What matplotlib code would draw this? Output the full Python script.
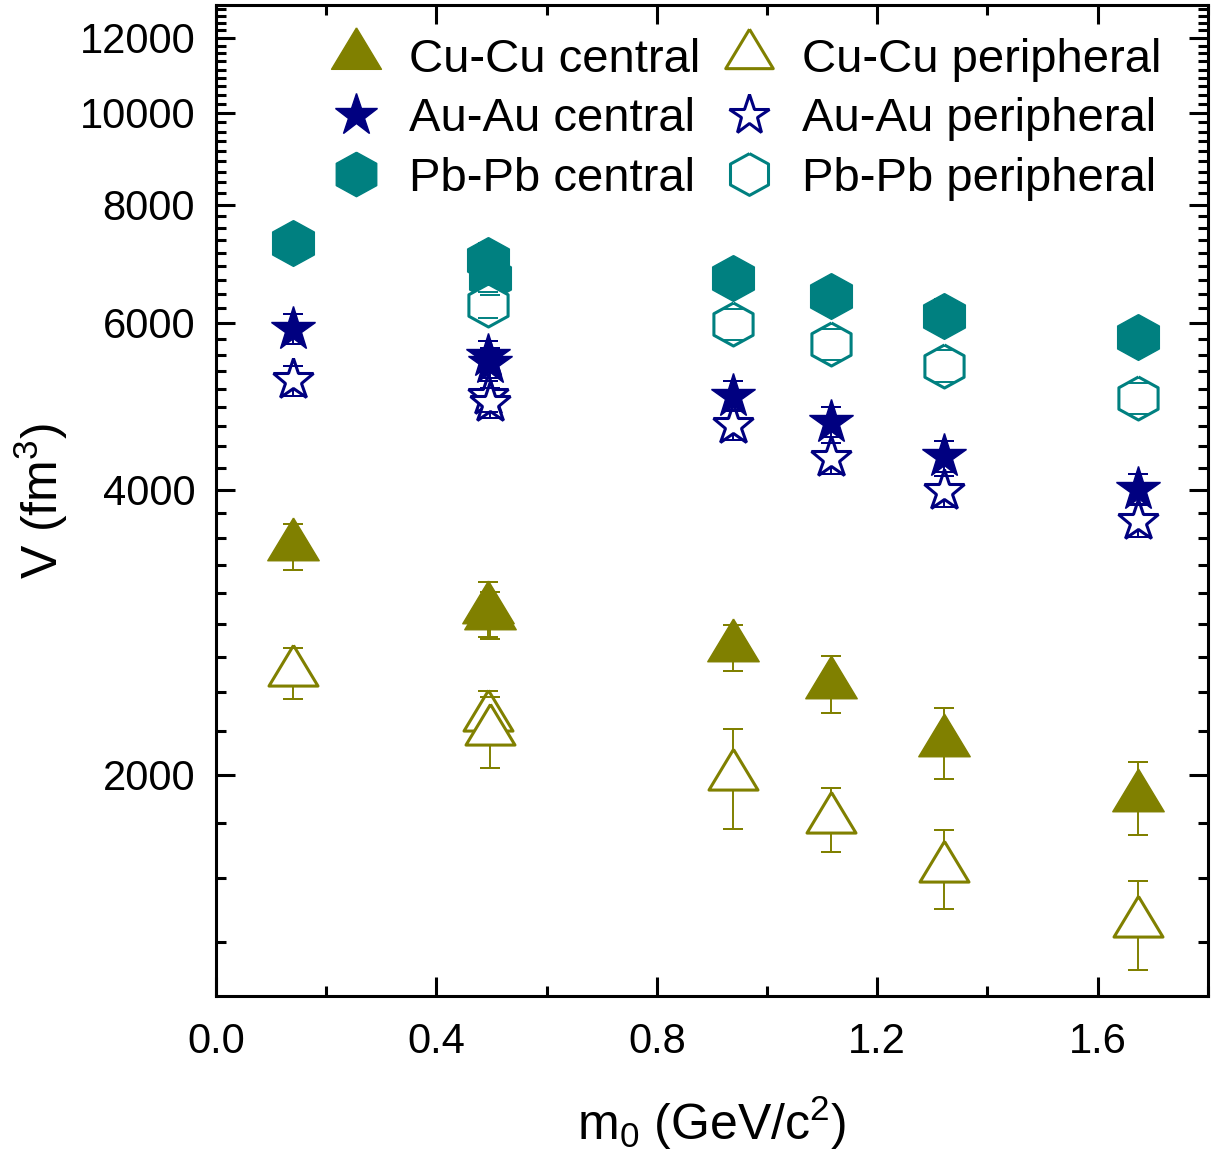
import numpy as np
import matplotlib
matplotlib.use("Agg")
import matplotlib.pyplot as plt
from matplotlib.ticker import FixedLocator, NullFormatter, FuncFormatter

plt.rcParams['font.family'] = ['Liberation Sans', 'DejaVu Sans']
plt.rcParams['mathtext.fontset'] = 'custom'
plt.rcParams['mathtext.rm'] = 'Liberation Sans'
plt.rcParams['mathtext.it'] = 'Liberation Sans:italic'

# particle masses (GeV/c^2): pi, K+, K0s, p, Lambda, Xi, Omega
m_all = [0.1396, 0.4937, 0.4976, 0.9383, 1.1157, 1.3217, 1.6725]
m_pb_per = [0.4937, 0.9383, 1.1157, 1.3217, 1.6725]

# volumes V (fm^3)
cu_cen = [3485, 2995, 2950, 2727, 2495, 2165, 1895]
cu_cen_err = [192, 200, 168, 155, 172, 185, 168]
cu_per = [2565, 2300, 2225, 1995, 1797, 1595, 1395]
cu_per_err = [160, 150, 190, 240, 140, 153, 150]

au_cen = [5920, 5540, 5450, 5030, 4720, 4340, 4010]
au_cen_err = [215, 200, 200, 185, 175, 160, 150]
au_per = [5220, 5020, 4940, 4680, 4320, 3990, 3710]
au_per_err = [190, 185, 180, 170, 160, 150, 140]

pb_cen = [7290, 7000, 6700, 6690, 6400, 6110, 5800]
pb_cen_err = [290, 280, 270, 270, 260, 245, 230]
pb_per = [6270, 5980, 5700, 5410, 5000]
pb_per_err = [200, 230, 220, 210, 190]

olive = '#808000'
navy = '#000080'
teal = '#008080'

# triangle with its centroid on the data point, hexagon a bit wider than regular
tri = [(0, 0.553), (-0.5, -0.277), (0.5, -0.277), (0, 0.553)]
hexa = [(0, 0.5), (0.455, 0.25), (0.455, -0.25), (0, -0.5),
        (-0.455, -0.25), (-0.455, 0.25), (0, 0.5)]

fig = plt.figure(figsize=(12.25, 11.61), dpi=100)
ax = fig.add_axes([0.1763, 0.1421, 0.986 - 0.1763, 0.9957 - 0.1421])
ax.set_yscale('log')

series = [
    (m_all, cu_cen, cu_cen_err, olive, tri, True, 41, 'Cu-Cu central'),
    (m_all, au_cen, au_cen_err, navy, '*', True, 33, 'Au-Au central'),
    (m_all, pb_cen, pb_cen_err, teal, hexa, True, 33, 'Pb-Pb central'),
    (m_all, cu_per, cu_per_err, olive, tri, False, 41, 'Cu-Cu peripheral'),
    (m_all, au_per, au_per_err, navy, '*', False, 33, 'Au-Au peripheral'),
    (m_pb_per, pb_per, pb_per_err, teal, hexa, False, 33, 'Pb-Pb peripheral'),
]

for x, y, e, c, mk, filled, ms, lab in series:
    ax.errorbar(x, y, yerr=e, fmt='none', ecolor=c, elinewidth=1.4,
                capsize=7.5, capthick=1.4, zorder=2)
for x, y, e, c, mk, filled, ms, lab in series:
    if filled:
        ax.plot(x, y, linestyle='none', marker=mk, ms=ms, color=c,
                mec=c, mew=1, label=lab, zorder=3)
    else:
        ax.plot(x, y, linestyle='none', marker=mk, ms=ms - 2, color=c,
                mfc='white', mec=c, mew=2.2, label=lab, zorder=4)
# caps stay visible on top of the hollow markers
for x, y, e, c, mk, filled, ms, lab in series:
    lo = [v - d for v, d in zip(y, e)]
    hi = [v + d for v, d in zip(y, e)]
    ax.plot(x + x, lo + hi, linestyle='none', marker='_', ms=15, mew=1.4,
            color=c, zorder=5)

ax.set_xlim(0, 1.8)
ax.set_ylim(1168, 13000)

ax.set_xticks([0.0, 0.4, 0.8, 1.2, 1.6])
ax.set_xticks([0.2, 0.6, 1.0, 1.4, 1.8], minor=True)
ax.xaxis.set_major_formatter(FuncFormatter(lambda v, p: f'{v:.1f}'))

ax.yaxis.set_major_locator(FixedLocator([2000, 4000, 6000, 8000, 10000, 12000]))
ax.yaxis.set_major_formatter(FuncFormatter(lambda v, p: f'{int(round(v))}'))
minor_y = [2000 * k / 9 for k in range(6, 59) if k % 9 != 0]
ax.yaxis.set_minor_locator(FixedLocator(minor_y))
ax.yaxis.set_minor_formatter(NullFormatter())

for s in ax.spines.values():
    s.set_linewidth(2.2)
ax.tick_params(which='both', direction='in', top=True, right=True,
               width=2.2, labelsize=30)
ax.tick_params(which='major', length=14)
ax.tick_params(which='minor', length=7)
ax.tick_params(axis='x', which='major', pad=19)
ax.tick_params(axis='y', which='major', pad=15)

ax.set_xlabel(r'm$_0$ (GeV/c$^2$)', fontsize=36, labelpad=23)
ax.set_ylabel(r'V (fm$^3$)', fontsize=36, labelpad=7)

ax.legend(ncol=2, frameon=False, loc='upper left', bbox_to_anchor=(0.117, 0.967),
          fontsize=34, handlelength=1.0, handletextpad=0.62, columnspacing=0.55,
          labelspacing=0.33, borderpad=0, borderaxespad=0, markerscale=0.97)

fig.savefig('out.png', dpi=100)
